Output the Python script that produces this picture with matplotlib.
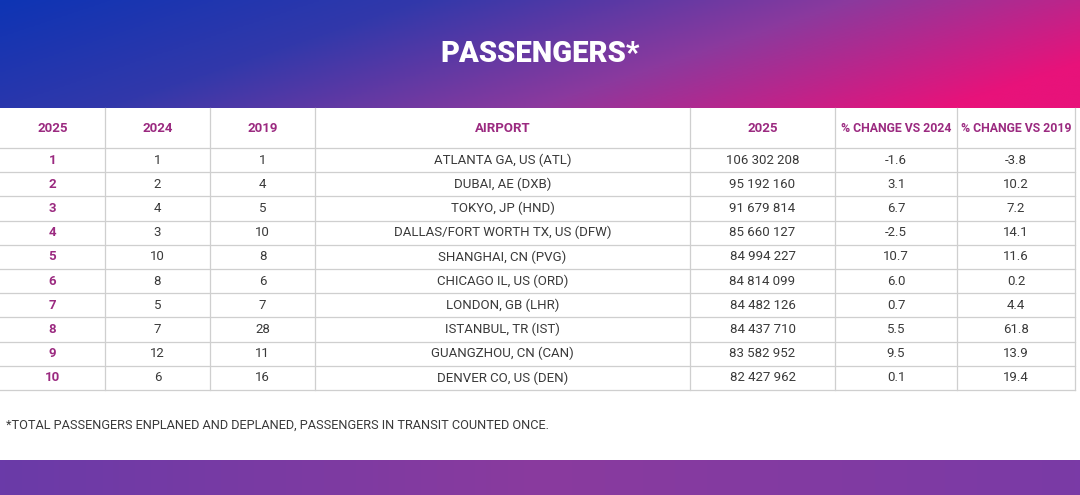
import numpy as np
import matplotlib.pyplot as plt
from matplotlib.colors import LinearSegmentedColormap

# ===========================
# Data
# ===========================
HEADERS = ["2025", "2024", "2019", "AIRPORT", "2025", "% CHANGE VS 2024", "% CHANGE VS 2019"]
RANK_2025 = ["1", "2", "3", "4", "5", "6", "7", "8", "9", "10"]
RANK_2024 = ["1", "2", "4", "3", "10", "8", "5", "7", "12", "6"]
RANK_2019 = ["1", "4", "5", "10", "8", "6", "7", "28", "11", "16"]
AIRPORTS = ["ATLANTA GA, US (ATL)", "DUBAI, AE (DXB)", "TOKYO, JP (HND)",
            "DALLAS/FORT WORTH TX, US (DFW)", "SHANGHAI, CN (PVG)", "CHICAGO IL, US (ORD)",
            "LONDON, GB (LHR)", "ISTANBUL, TR (IST)", "GUANGZHOU, CN (CAN)", "DENVER CO, US (DEN)"]
PASSENGERS = ["106 302 208", "95 192 160", "91 679 814", "85 660 127", "84 994 227",
              "84 814 099", "84 482 126", "84 437 710", "83 582 952", "82 427 962"]
CHG_2024 = ["-1.6", "3.1", "6.7", "-2.5", "10.7", "6.0", "0.7", "5.5", "9.5", "0.1"]
CHG_2019 = ["-3.8", "10.2", "7.2", "14.1", "11.6", "0.2", "4.4", "61.8", "13.9", "19.4"]
TITLE = "PASSENGERS*"
FOOTNOTE = "*TOTAL PASSENGERS ENPLANED AND DEPLANED, PASSENGERS IN TRANSIT COUNTED ONCE."

# ===========================
# Layout (pixels)
# ===========================
W, H = 1080, 495
COL_EDGES = [0, 105, 210, 315, 690, 835, 957, 1075]
HEAD_TOP, HEAD_BOT = 108, 148
ROW_H = 24.2
FONT = ["Roboto", "DejaVu Sans"]
HEAD_COLOR = "#9b2a80"
TEXT_COLOR = "#3a3a3a"
LINE_COLOR = "#cfcfcf"

fig = plt.figure(figsize=(W / 100, H / 100), dpi=100)
ax = fig.add_axes([0, 0, 1, 1])
ax.set_xlim(0, W)
ax.set_ylim(H, 0)
ax.axis("off")

# banner gradient
cmap = LinearSegmentedColormap.from_list("banner", ["#0e34b4", "#3238aa", "#8a3a9e", "#e8127a"])
gx = np.linspace(0, 1, 400)
gy = np.linspace(0, 1, 60)[:, None]
grad = np.clip(gx[None, :] * 0.85 + gy * 0.25, 0, 1)
ax.imshow(grad, cmap=cmap, extent=(0, W, HEAD_TOP, 0), aspect="auto", zorder=0)
ax.text(W / 2, 54, TITLE, ha="center", va="center", color="white",
        fontsize=21, fontweight="heavy", family=FONT)

# bottom band
bot = LinearSegmentedColormap.from_list("bot", ["#6a3aa8", "#8a3a9e", "#7a3aa6"])
ax.imshow(np.linspace(0, 1, 200)[None, :], cmap=bot, extent=(0, W, H, 460), aspect="auto", zorder=0)

# header row
for i, h in enumerate(HEADERS):
    cx = (COL_EDGES[i] + COL_EDGES[i + 1]) / 2
    ax.text(cx, (HEAD_TOP + HEAD_BOT) / 2, h, ha="center", va="center",
            color=HEAD_COLOR, fontsize=8.8 if len(h) > 10 else 9.5, fontweight="bold", family=FONT)

# data rows
columns = [RANK_2025, RANK_2024, RANK_2019, AIRPORTS, PASSENGERS, CHG_2024, CHG_2019]
n = len(RANK_2025)
for r in range(n):
    cy = HEAD_BOT + ROW_H * (r + 0.5)
    for i, col in enumerate(columns):
        cx = (COL_EDGES[i] + COL_EDGES[i + 1]) / 2
        bold = i == 0
        ax.text(cx, cy, col[r], ha="center", va="center",
                color=HEAD_COLOR if bold else TEXT_COLOR, fontsize=9.5,
                fontweight="bold" if bold else "normal", family=FONT)

# grid lines
table_bot = HEAD_BOT + ROW_H * n
for k in range(n + 1):
    y = HEAD_BOT + ROW_H * k
    ax.plot([0, COL_EDGES[-1]], [y, y], color=LINE_COLOR, lw=0.9, zorder=1)
for x in COL_EDGES[1:]:
    ax.plot([x, x], [HEAD_TOP, table_bot], color=LINE_COLOR, lw=0.9, zorder=1)

ax.text(6, 425, FOOTNOTE, ha="left", va="center", color=TEXT_COLOR, fontsize=9.2, family=FONT)

fig.savefig("out.png", dpi=100)
